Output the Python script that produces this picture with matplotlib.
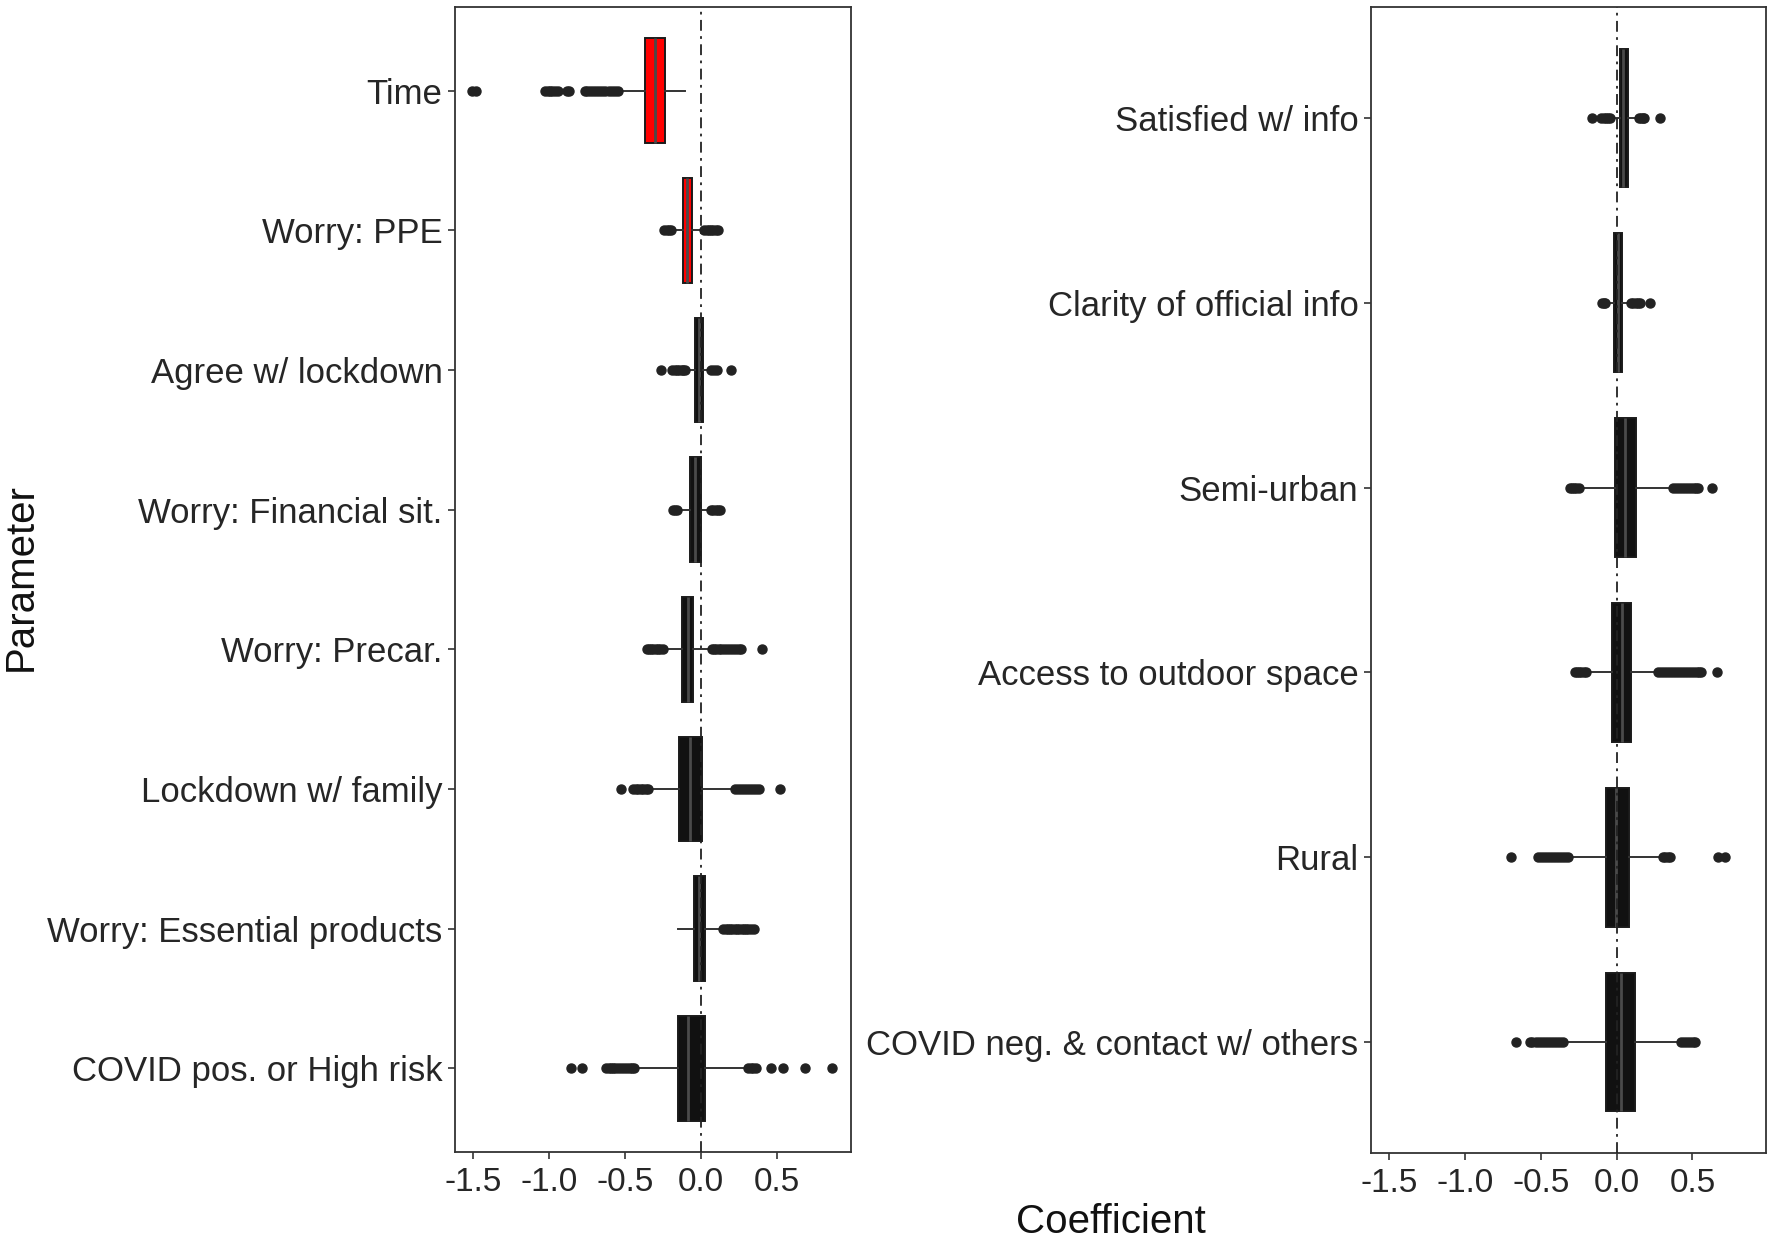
import matplotlib
matplotlib.use("Agg")
import matplotlib.pyplot as plt

plt.rcParams['font.family'] = ['Liberation Sans', 'DejaVu Sans']

# ---- left panel data (top to bottom) ----
labels_left = ["Time", "Worry: PPE", "Agree w/ lockdown", "Worry: Financial sit.",
               "Worry: Precar.", "Lockdown w/ family", "Worry: Essential products",
               "COVID pos. or High risk"]
q1_left = [-0.372, -0.120, -0.042, -0.075, -0.128, -0.145, -0.050, -0.154]
med_left = [-0.306, -0.097, -0.015, -0.040, -0.090, -0.073, -0.013, -0.084]
q3_left = [-0.240, -0.064, 0.013, -0.002, -0.053, 0.004, 0.024, 0.024]
wlo_left = [-0.530, -0.180, -0.095, -0.145, -0.235, -0.335, -0.152, -0.420]
whi_left = [-0.106, 0.005, 0.052, 0.052, 0.055, 0.205, 0.125, 0.285]
out_left = [
    [-1.505, -1.482, -1.026, -1.01, -0.995, -0.98, -0.965, -0.943, -0.88, -0.87,
     -0.768, -0.75, -0.73, -0.71, -0.69, -0.67, -0.65, -0.63, -0.61, -0.59, -0.57, -0.55],
    [-0.244, -0.228, -0.212, -0.198, 0.02, 0.035, 0.05, 0.065, 0.08, 0.095, 0.11],
    [-0.266, -0.19, -0.175, -0.16, -0.145, -0.13, -0.118, -0.106, 0.066, 0.085, 0.104, 0.196],
    [-0.185, -0.172, -0.16, 0.066, 0.08, 0.095, 0.11, 0.125],
    [-0.36, -0.345, -0.33, -0.315, -0.30, -0.285, -0.27, -0.25,
     0.068, 0.085, 0.10, 0.115, 0.13, 0.15, 0.17, 0.19, 0.21, 0.23, 0.248, 0.264, 0.40],
    [-0.53, -0.449, -0.432, -0.415, -0.398, -0.381, -0.364, -0.348,
     0.223, 0.24, 0.26, 0.28, 0.30, 0.32, 0.34, 0.36, 0.379, 0.52],
    [0.145, 0.16, 0.175, 0.19, 0.205, 0.22, 0.235, 0.25, 0.265, 0.28, 0.295, 0.31, 0.325, 0.345],
    [-0.854, -0.784, -0.625, -0.61, -0.595, -0.58, -0.565, -0.55, -0.53, -0.51, -0.49,
     -0.47, -0.455, -0.443, 0.31, 0.325, 0.34, 0.36, 0.46, 0.537, 0.68, 0.863],
]
fill_left = ["#ff0000", "#ff0000", "#111111", "#111111", "#111111", "#111111", "#111111", "#111111"]

# ---- right panel data (top to bottom) ----
labels_right = ["Satisfied w/ info", "Clarity of official info", "Semi-urban",
                "Access to outdoor space", "Rural", "COVID neg. & contact w/ others"]
q1_right = [0.022, -0.018, -0.013, -0.028, -0.072, -0.072]
med_right = [0.045, 0.010, 0.053, 0.033, -0.007, 0.026]
q3_right = [0.074, 0.037, 0.130, 0.097, 0.081, 0.118]
wlo_right = [-0.025, -0.050, -0.220, -0.180, -0.290, -0.330]
whi_right = [0.125, 0.070, 0.340, 0.245, 0.280, 0.400]
out_right = [
    [-0.164, -0.10, -0.085, -0.07, -0.056, -0.044, 0.145, 0.16, 0.172, 0.182, 0.283],
    [-0.094, -0.085, -0.077, 0.097, 0.11, 0.125, 0.14, 0.153, 0.222],
    [-0.309, -0.295, -0.28, -0.265, -0.245, 0.37, 0.39, 0.41, 0.43, 0.45, 0.47,
     0.49, 0.51, 0.525, 0.538, 0.627],
    [-0.276, -0.262, -0.248, -0.232, -0.216, -0.202, 0.272, 0.29, 0.31, 0.33, 0.35,
     0.37, 0.39, 0.41, 0.43, 0.45, 0.47, 0.49, 0.51, 0.53, 0.545, 0.559, 0.665],
    [-0.70, -0.518, -0.50, -0.48, -0.46, -0.44, -0.42, -0.40, -0.38, -0.36, -0.34, -0.318,
     0.309, 0.322, 0.336, 0.35, 0.671, 0.717],
    [-0.664, -0.572, -0.555, -0.535, -0.515, -0.495, -0.475, -0.455, -0.435, -0.415,
     -0.395, -0.375, -0.355, 0.426, 0.445, 0.465, 0.485, 0.505, 0.52],
]
fill_right = ["#111111"] * 6

xticks = [-1.5, -1.0, -0.5, 0.0, 0.5]
xlim = (-1.62, 0.985)


def draw_panel(ax, labels, q1, med, q3, wlo, whi, outs, fills):
    n = len(labels)
    pos = [n - i for i in range(n)]
    stats = []
    for i in range(n):
        stats.append(dict(med=med[i], q1=q1[i], q3=q3[i], whislo=wlo[i],
                          whishi=whi[i], fliers=outs[i]))
    res = ax.bxp(stats, positions=pos, widths=0.75, orientation='horizontal',
                 patch_artist=True, showcaps=False,
                 boxprops=dict(edgecolor='#1a1a1a', linewidth=1.4),
                 whiskerprops=dict(color='#333333', linewidth=1.4),
                 medianprops=dict(color='#4a4a4a', linewidth=2.0),
                 flierprops=dict(marker='o', markersize=6.5, markerfacecolor='#222222',
                                 markeredgecolor='#222222', linestyle='none'))
    for box, c in zip(res['boxes'], fills):
        box.set_facecolor(c)
    ax.axvline(0, color='#222222', linewidth=1.3, linestyle=(0, (6, 3, 1.5, 3)), zorder=5)
    ax.set_ylim(0.4, n + 0.6)
    ax.set_xlim(*xlim)
    ax.set_xticks(xticks)
    ax.set_xticklabels(["-1.5", "-1.0", "-0.5", "0.0", "0.5"])
    ax.set_yticks(pos)
    ax.set_yticklabels(labels)
    ax.tick_params(axis='both', colors='#333333', length=5,
                   width=1.2, labelcolor='#262626')
    ax.tick_params(axis='x', pad=6, labelsize=24)
    ax.tick_params(axis='y', pad=4, labelsize=25)
    for s in ax.spines.values():
        s.set_color('#333333')
        s.set_linewidth(1.3)


fig = plt.figure(figsize=(17.72, 12.44), dpi=100)
ax1 = fig.add_axes([455 / 1772, 1 - 1152 / 1244, 396 / 1772, 1145 / 1244])
ax2 = fig.add_axes([1371 / 1772, 1 - 1153 / 1244, 395 / 1772, 1146 / 1244])

draw_panel(ax1, labels_left, q1_left, med_left, q3_left, wlo_left, whi_left, out_left, fill_left)
draw_panel(ax2, labels_right, q1_right, med_right, q3_right, wlo_right, whi_right, out_right, fill_right)

fig.text(1111 / 1772, 1 - 1222 / 1244, "Coefficient", ha='center', va='center',
         fontsize=29, color='#111111')
fig.text(21 / 1772, 1 - 577 / 1244, "Parameter", ha='center', va='center',
         rotation=90, fontsize=29, color='#111111')

fig.savefig("out.png", dpi=100)
